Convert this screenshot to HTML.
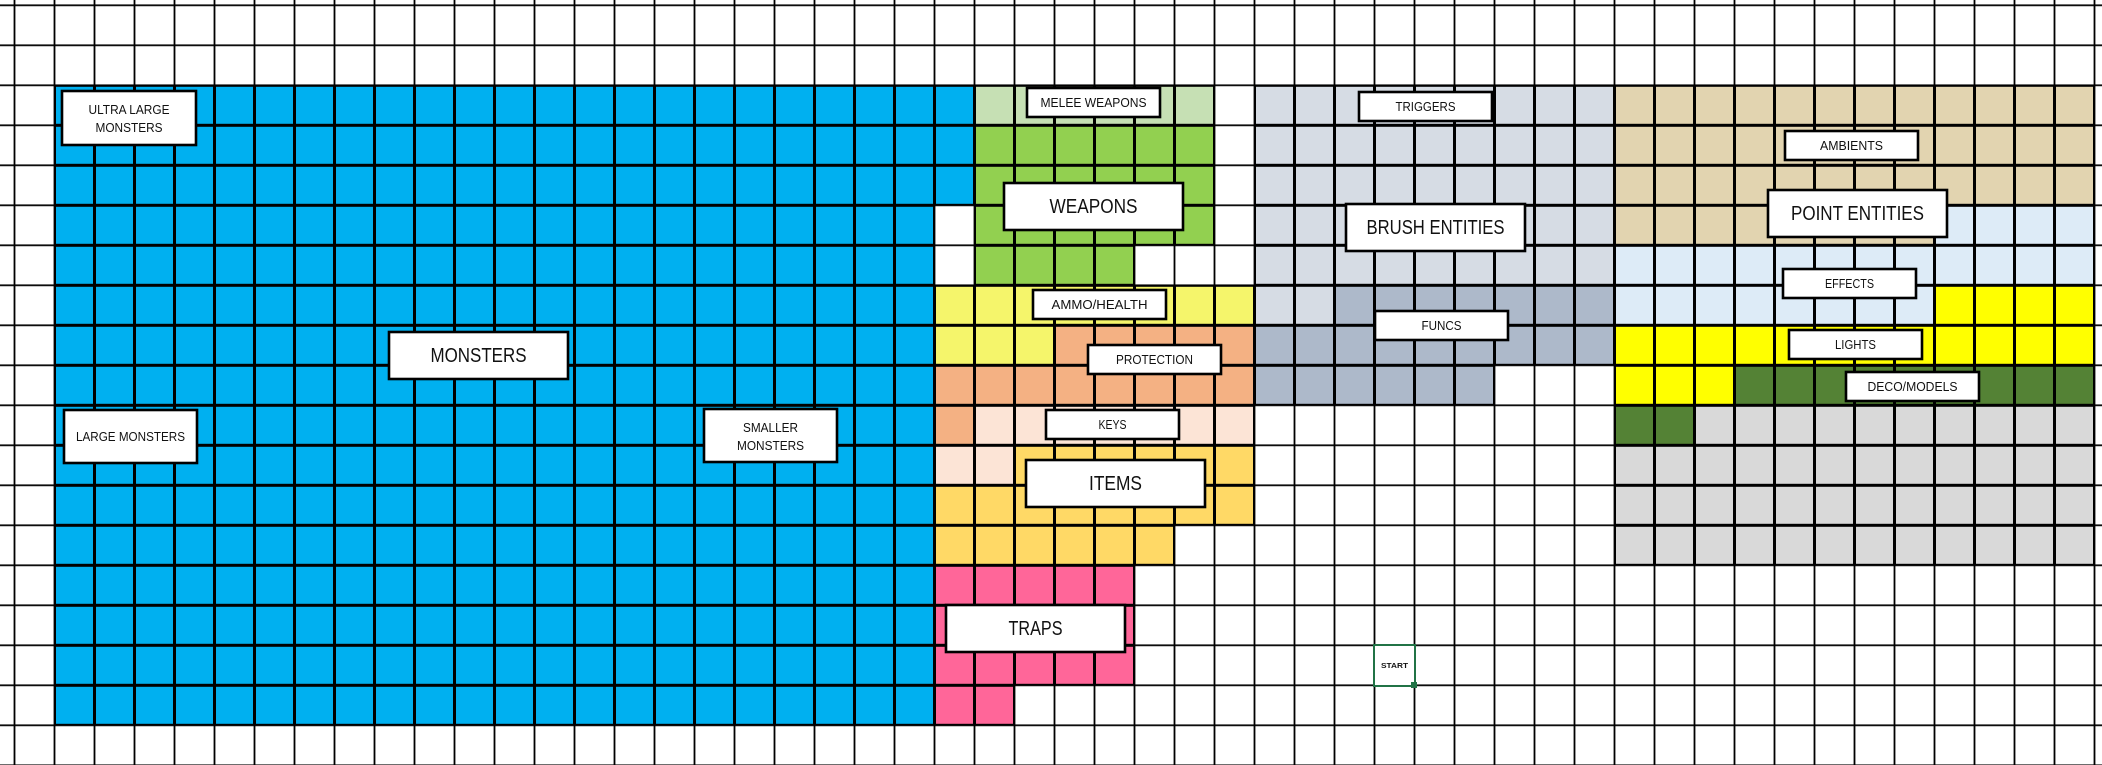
<!DOCTYPE html>
<html><head><meta charset="utf-8"><style>
html,body{margin:0;padding:0;background:#fff;}
svg{display:block;}
text{font-family:"Liberation Sans",sans-serif;fill:#111;text-anchor:middle;}
.s{font-size:13px;}
.b{font-size:20px;}
</style></head><body>
<svg width="2102" height="765" viewBox="0 0 2102 765" xmlns="http://www.w3.org/2000/svg">
<defs>
<pattern id="thin" patternUnits="userSpaceOnUse" x="14.5" y="5.3" width="40" height="40">
<path d="M0 0H40V40H0Z" fill="none" stroke="#000" stroke-width="1.8"/>
</pattern>
<pattern id="thick" patternUnits="userSpaceOnUse" x="14.5" y="5.3" width="40" height="40">
<path d="M0 0H40V40H0Z" fill="none" stroke="#000" stroke-width="3"/>
</pattern>
<g id="cells">
<rect x="54.5" y="85.3" width="880" height="640" fill="#00b0f0"/>
<rect x="934.5" y="85.3" width="40" height="120" fill="#00b0f0"/>
<rect x="974.5" y="85.3" width="240" height="40" fill="#c6e0b4"/>
<rect x="974.5" y="125.3" width="240" height="120" fill="#92d050"/>
<rect x="974.5" y="245.3" width="160" height="40" fill="#92d050"/>
<rect x="934.5" y="285.3" width="320" height="40" fill="#f5f56b"/>
<rect x="934.5" y="325.3" width="120" height="40" fill="#f5f56b"/>
<rect x="1054.5" y="325.3" width="200" height="40" fill="#f4b183"/>
<rect x="934.5" y="365.3" width="320" height="40" fill="#f4b183"/>
<rect x="934.5" y="405.3" width="40" height="40" fill="#f4b183"/>
<rect x="974.5" y="405.3" width="280" height="40" fill="#fce4d6"/>
<rect x="934.5" y="445.3" width="80" height="40" fill="#fce4d6"/>
<rect x="1014.5" y="445.3" width="240" height="40" fill="#ffd966"/>
<rect x="934.5" y="485.3" width="320" height="40" fill="#ffd966"/>
<rect x="934.5" y="525.3" width="240" height="40" fill="#ffd966"/>
<rect x="934.5" y="565.3" width="200" height="120" fill="#ff6699"/>
<rect x="934.5" y="685.3" width="80" height="40" fill="#ff6699"/>
<rect x="1254.5" y="85.3" width="360" height="200" fill="#d6dce4"/>
<rect x="1254.5" y="285.3" width="80" height="40" fill="#d6dce4"/>
<rect x="1334.5" y="285.3" width="280" height="40" fill="#adb9ca"/>
<rect x="1254.5" y="325.3" width="360" height="40" fill="#adb9ca"/>
<rect x="1254.5" y="365.3" width="240" height="40" fill="#adb9ca"/>
<rect x="1614.5" y="85.3" width="480" height="120" fill="#e2d4b0"/>
<rect x="1614.5" y="205.3" width="320" height="40" fill="#e2d4b0"/>
<rect x="1934.5" y="205.3" width="160" height="40" fill="#ddebf7"/>
<rect x="1614.5" y="245.3" width="480" height="40" fill="#ddebf7"/>
<rect x="1614.5" y="285.3" width="320" height="40" fill="#ddebf7"/>
<rect x="1934.5" y="285.3" width="160" height="40" fill="#ffff00"/>
<rect x="1614.5" y="325.3" width="480" height="40" fill="#ffff00"/>
<rect x="1614.5" y="365.3" width="120" height="40" fill="#ffff00"/>
<rect x="1734.5" y="365.3" width="360" height="40" fill="#548235"/>
<rect x="1614.5" y="405.3" width="80" height="40" fill="#548235"/>
<rect x="1694.5" y="405.3" width="400" height="40" fill="#d9d9d9"/>
<rect x="1614.5" y="445.3" width="480" height="120" fill="#d9d9d9"/>
</g>
</defs>
<rect width="2102" height="765" fill="#fff"/>
<use href="#cells"/>
<rect x="0" y="0" width="2102" height="765" fill="url(#thin)"/>
<g fill="url(#thick)">
<rect x="54.5" y="85.3" width="880" height="640"/>
<rect x="934.5" y="85.3" width="40" height="120"/>
<rect x="974.5" y="85.3" width="240" height="160"/>
<rect x="974.5" y="245.3" width="160" height="40"/>
<rect x="934.5" y="285.3" width="320" height="240"/>
<rect x="934.5" y="525.3" width="240" height="40"/>
<rect x="934.5" y="565.3" width="200" height="120"/>
<rect x="934.5" y="685.3" width="80" height="40"/>
<rect x="1254.5" y="85.3" width="360" height="280"/>
<rect x="1254.5" y="365.3" width="240" height="40"/>
<rect x="1614.5" y="85.3" width="480" height="480"/>
</g>

<g fill="#fff" stroke="#000" stroke-width="2.6">
<rect x="62" y="91" width="134" height="54"/>
<rect x="64" y="410" width="133" height="53"/>
<rect x="389" y="332" width="179" height="47"/>
<rect x="704" y="409" width="133" height="53"/>
<rect x="1027" y="88" width="133" height="29"/>
<rect x="1004" y="183" width="179" height="47"/>
<rect x="1359" y="92" width="133" height="29"/>
<rect x="1346" y="204" width="179" height="47"/>
<rect x="1033" y="290" width="133" height="29"/>
<rect x="1375" y="311" width="133" height="29"/>
<rect x="1088" y="345" width="133" height="29"/>
<rect x="1046" y="410" width="133" height="29"/>
<rect x="1026" y="460" width="179" height="47"/>
<rect x="946" y="605" width="179" height="47"/>
<rect x="1785" y="131" width="133" height="29"/>
<rect x="1768" y="190" width="179" height="47"/>
<rect x="1783" y="269" width="133" height="29"/>
<rect x="1789" y="330" width="133" height="29"/>
<rect x="1846" y="372" width="133" height="29"/>
</g>
<rect x="1374" y="645" width="41" height="41" fill="#fff" stroke="#217346" stroke-width="2"/>
<rect x="1411" y="682" width="6" height="6" fill="#217346"/>

<text class="s" x="129" y="114" textLength="81" lengthAdjust="spacingAndGlyphs">ULTRA LARGE</text>
<text class="s" x="129" y="132" textLength="67" lengthAdjust="spacingAndGlyphs">MONSTERS</text>
<text class="s" x="130.5" y="441" textLength="109" lengthAdjust="spacingAndGlyphs">LARGE MONSTERS</text>
<text class="b" x="478.5" y="362" textLength="96" lengthAdjust="spacingAndGlyphs">MONSTERS</text>
<text class="s" x="770.5" y="432" textLength="55" lengthAdjust="spacingAndGlyphs">SMALLER</text>
<text class="s" x="770.5" y="450" textLength="67" lengthAdjust="spacingAndGlyphs">MONSTERS</text>
<text class="s" x="1093.5" y="107" textLength="106" lengthAdjust="spacingAndGlyphs">MELEE WEAPONS</text>
<text class="b" x="1093.5" y="213" textLength="88" lengthAdjust="spacingAndGlyphs">WEAPONS</text>
<text class="s" x="1425.5" y="111" textLength="60" lengthAdjust="spacingAndGlyphs">TRIGGERS</text>
<text class="b" x="1435.5" y="234" textLength="138" lengthAdjust="spacingAndGlyphs">BRUSH ENTITIES</text>
<text class="s" x="1099.5" y="309" textLength="96" lengthAdjust="spacingAndGlyphs">AMMO/HEALTH</text>
<text class="s" x="1441.5" y="330" textLength="40" lengthAdjust="spacingAndGlyphs">FUNCS</text>
<text class="s" x="1154.5" y="364" textLength="77" lengthAdjust="spacingAndGlyphs">PROTECTION</text>
<text class="s" x="1112.5" y="429" textLength="28" lengthAdjust="spacingAndGlyphs">KEYS</text>
<text class="b" x="1115.5" y="490" textLength="53" lengthAdjust="spacingAndGlyphs">ITEMS</text>
<text class="b" x="1035.5" y="635" textLength="54" lengthAdjust="spacingAndGlyphs">TRAPS</text>
<text class="s" x="1851.5" y="150" textLength="63" lengthAdjust="spacingAndGlyphs">AMBIENTS</text>
<text class="b" x="1857.5" y="220" textLength="133" lengthAdjust="spacingAndGlyphs">POINT ENTITIES</text>
<text class="s" x="1849.5" y="288" textLength="49" lengthAdjust="spacingAndGlyphs">EFFECTS</text>
<text class="s" x="1855.5" y="349" textLength="41" lengthAdjust="spacingAndGlyphs">LIGHTS</text>
<text class="s" x="1912.5" y="391" textLength="90" lengthAdjust="spacingAndGlyphs">DECO/MODELS</text>
<text x="1394.5" y="668" style="font-size:7px;font-weight:bold" textLength="27" lengthAdjust="spacingAndGlyphs">START</text>
</svg>
</body></html>
